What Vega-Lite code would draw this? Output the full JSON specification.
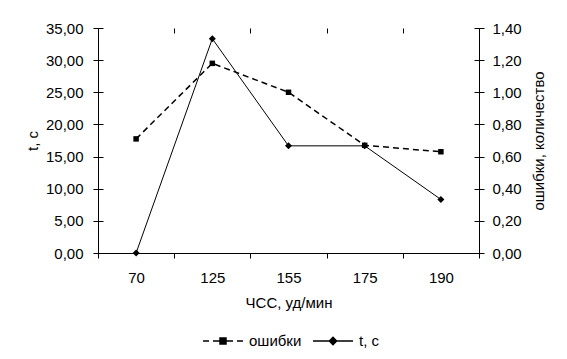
{
  "$schema": "https://vega.github.io/schema/vega-lite/v6.json",
  "width": 381,
  "height": 225,
  "autosize": {"type": "none"},
  "padding": {"left": 98, "top": 28, "right": 88, "bottom": 106},
  "background": "white",
  "config": {
    "locale": {"number": {"decimal": ",", "thousands": " ", "grouping": [3], "currency": ["", " руб."]}},
    "font": "Liberation Sans",
    "view": {"stroke": null},
    "axis": {
      "labelFont": "Liberation Sans", "labelFontSize": 15, "labelColor": "black",
      "titleFont": "Liberation Sans", "titleFontSize": 15, "titleFontWeight": "normal", "titleColor": "black",
      "domainColor": "black", "tickColor": "black", "tickSize": 5, "grid": false,
      "domainWidth": 1, "tickWidth": 1
    }
  },
  "data": {
    "values": [
      {"hr": "70", "series": "t, c", "value": 0},
      {"hr": "125", "series": "t, c", "value": 33.33},
      {"hr": "155", "series": "t, c", "value": 16.67},
      {"hr": "175", "series": "t, c", "value": 16.67},
      {"hr": "190", "series": "t, c", "value": 8.33},
      {"hr": "70", "series": "ошибки", "value": 0.71},
      {"hr": "125", "series": "ошибки", "value": 1.18},
      {"hr": "155", "series": "ошибки", "value": 1.0},
      {"hr": "175", "series": "ошибки", "value": 0.67},
      {"hr": "190", "series": "ошибки", "value": 0.63}
    ]
  },
  "layer": [
    {
      "transform": [{"filter": "datum.series === 't, c'"}],
      "encoding": {
        "x": {
          "field": "hr", "type": "ordinal",
          "sort": ["70", "125", "155", "175", "190"],
          "scale": {"type": "band", "paddingInner": 0, "paddingOuter": 0},
          "axis": {"title": "ЧСС, уд/мин", "labelAngle": 0, "tickBand": "extent", "labelPadding": 12, "titlePadding": 10}
        },
        "y": {
          "field": "value", "type": "quantitative",
          "scale": {"domain": [0, 35]},
          "axis": {"orient": "left", "values": [0, 5, 10, 15, 20, 25, 30, 35], "format": ".2f", "title": "t, c", "labelPadding": 10, "titlePadding": 5}
        }
      },
      "layer": [
        {"mark": {"type": "line", "color": "black", "strokeWidth": 1}},
        {"mark": {"type": "point", "shape": "diamond", "filled": true, "color": "black", "size": 49, "opacity": 1}}
      ]
    },
    {
      "transform": [{"filter": "datum.series === 'ошибки'"}],
      "encoding": {
        "x": {"field": "hr", "type": "ordinal", "sort": ["70", "125", "155", "175", "190"], "axis": null},
        "y": {
          "field": "value", "type": "quantitative",
          "scale": {"domain": [0, 1.4]},
          "axis": {"orient": "right", "values": [0, 0.2, 0.4, 0.6, 0.8, 1.0, 1.2, 1.4], "format": ".2f", "title": "ошибки, количество", "titleAngle": 270, "titleBaseline": "top", "labelPadding": 8, "titlePadding": 10}
        }
      },
      "layer": [
        {"mark": {"type": "line", "color": "black", "strokeWidth": 1.5, "strokeDash": [6, 4]}},
        {"mark": {"type": "point", "shape": "square", "filled": true, "color": "black", "size": 30, "opacity": 1}}
      ]
    },
    {
      "transform": [{"filter": "false"}],
      "mark": {"type": "point", "filled": false, "fill": "black", "stroke": "black", "strokeWidth": 1.5, "opacity": 1},
      "encoding": {
        "x": {"field": "hr", "type": "ordinal", "sort": ["70", "125", "155", "175", "190"],
          "axis": {"title": null, "labels": false, "domain": false, "tickSize": -5, "tickBand": "extent"}},
        "y": {"field": "value", "type": "quantitative", "scale": {"domain": [0, 35]},
          "axis": {"orient": "left", "values": [0, 5, 10, 15, 20, 25, 30, 35], "title": null, "labels": false, "domain": false, "tickSize": -5}},
        "shape": {
          "field": "series", "type": "nominal",
          "scale": {
            "domain": ["ошибки", "t, c"],
            "range": [
              "M-1,0H-0.7M-0.5,0H0.5M0.7,0H1M-0.15,-0.15H0.15V0.15H-0.15Z",
              "M-1,0H1M-0.18,0L0,-0.18L0.18,0L0,0.18Z"
            ]
          },
          "legend": {
            "orient": "none", "legendX": 104, "legendY": 292, "direction": "horizontal",
            "title": null, "symbolSize": 1600, "symbolOpacity": 1,
            "labelFont": "Liberation Sans", "labelFontSize": 15, "labelColor": "black",
            "labelOffset": 5, "columnPadding": 8, "padding": 0
          }
        }
      }
    },
    {
      "transform": [{"filter": "false"}],
      "mark": {"type": "point"},
      "encoding": {
        "x": {"field": "hr", "type": "ordinal", "sort": ["70", "125", "155", "175", "190"], "axis": null},
        "y": {"field": "value", "type": "quantitative", "scale": {"domain": [0, 1.4]},
          "axis": {"orient": "right", "values": [0, 0.2, 0.4, 0.6, 0.8, 1.0, 1.2, 1.4], "title": null, "labels": false, "domain": false, "tickSize": -5}}
      }
    }
  ],
  "resolve": {"scale": {"y": "independent"}, "axis": {"x": "independent"}}
}
